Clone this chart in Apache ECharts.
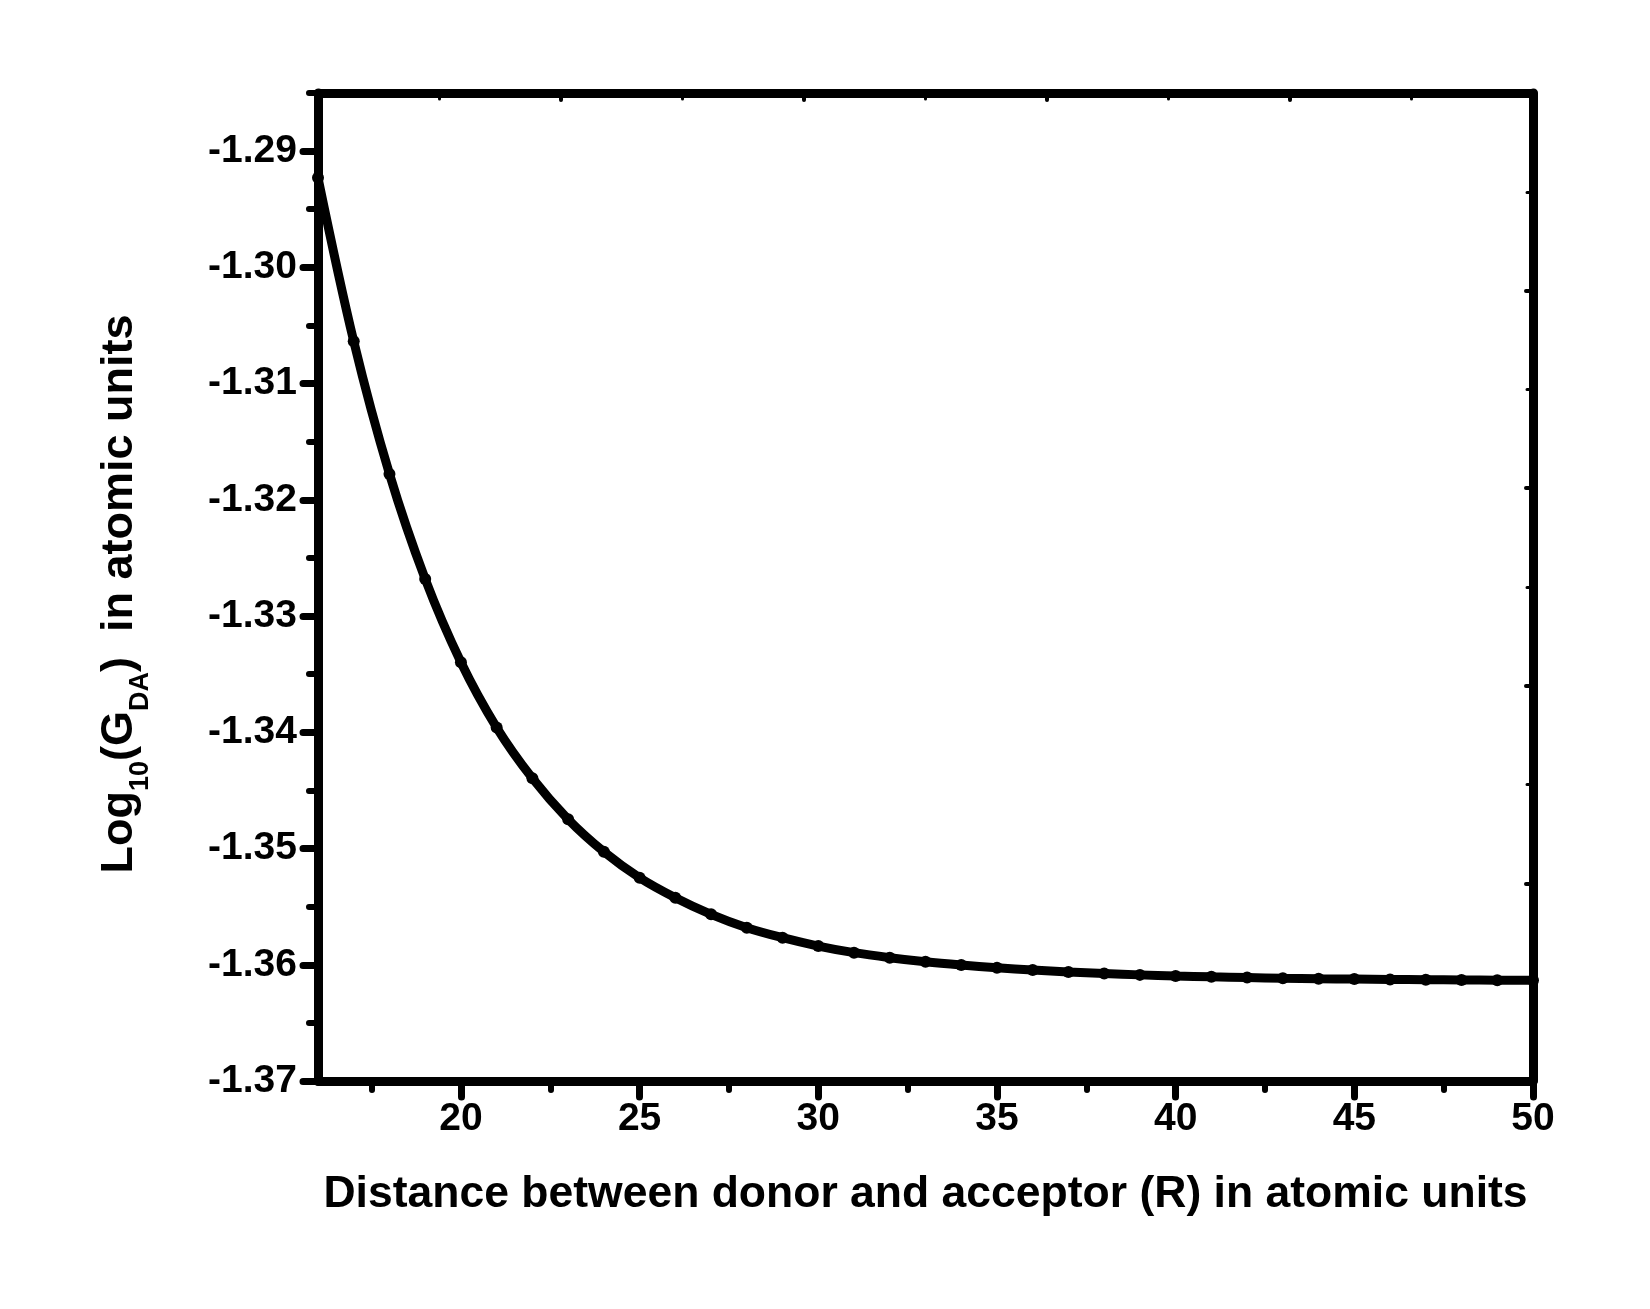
<!DOCTYPE html>
<html>
<head>
<meta charset="utf-8">
<script src="https://cdn.jsdelivr.net/npm/echarts@6/dist/echarts.min.js"></script>
<style>
html,body{margin:0;padding:0;background:#fff;}
#chart{width:1650px;height:1309px;}
</style>
</head>
<body>
<div id="chart"></div>
<script>
// Data
const xValues = [16,17,18,19,20,21,22,23,24,25,26,27,28,29,30,31,32,33,34,35,36,37,38,39,40,41,42,43,44,45,46,47,48,49,50];
const yValues = [-1.2923,-1.30636,-1.31777,-1.32681,-1.33397,-1.33959,-1.34396,-1.34749,-1.35028,-1.35251,
  -1.35423,-1.35566,-1.35681,-1.35767,-1.35839,-1.35896,-1.35939,-1.35974,-1.36002,-1.36026,
  -1.36046,-1.36062,-1.36076,-1.36087,-1.36097,-1.36104,-1.36110,-1.36116,-1.36120,-1.36123,
  -1.36126,-1.36128,-1.36131,-1.36133,-1.36134];

const xMajorTicks = [20,25,30,35,40,45,50];
const xMinorTicks = [17.5,22.5,27.5,32.5,37.5,42.5,47.5];
const yMajorTicks = [-1.37,-1.36,-1.35,-1.34,-1.33,-1.32,-1.31,-1.30,-1.29];
const yMinorTicks = [-1.365,-1.355,-1.345,-1.335,-1.325,-1.315,-1.305,-1.295,-1.285];

const xTitle = 'Distance between donor and acceptor (R) in atomic units';
const yTitle = '{m|Log}{s|10}{m|(G}{s|DA}{m|)  in atomic units}';

const FONT = 'Liberation Sans, Arial, sans-serif';
const AXW = 9;

const chart = echarts.init(document.getElementById('chart'), null, {renderer:'canvas'});
const axisLineStyle = {color:'#000', width:AXW, cap:'round'};

chart.setOption({
  backgroundColor:'#fff',
  animation:false,
  grid:{left:318, right:117, top:93, bottom:228, containLabel:false},
  xAxis:[
    {
      type:'value', position:'bottom', min:16, max:50,
      axisLine:{show:true, lineStyle:axisLineStyle},
      axisTick:{show:true, customValues:xMajorTicks, length:16, inside:false, lineStyle:{color:'#000', width:7, cap:'round'}},
      axisLabel:{show:true, customValues:xMajorTicks, margin:19, color:'#000', fontSize:39, fontWeight:'bold', fontFamily:FONT},
      splitLine:{show:false},
      name:xTitle, nameLocation:'middle', nameGap:91,
      nameTextStyle:{color:'#000', fontSize:44.5, fontWeight:'bold', fontFamily:FONT}
    },
    {
      type:'value', position:'bottom', min:16, max:50,
      axisLine:{show:false},
      axisTick:{show:true, customValues:xMinorTicks, length:9, inside:false, lineStyle:{color:'#000', width:6, cap:'round'}},
      axisLabel:{show:false},
      splitLine:{show:false}
    },
    {
      type:'value', position:'top', min:0, max:10, interval:2,
      axisLine:{show:true, lineStyle:axisLineStyle},
      axisTick:{show:true, inside:true, length:7, lineStyle:{color:'#000', width:4, cap:'round'}},
      minorTick:{show:true, splitNumber:2, length:6, lineStyle:{color:'#000', width:3, cap:'round'}},
      axisLabel:{show:false},
      splitLine:{show:false}
    }
  ],
  yAxis:[
    {
      type:'value', position:'left', min:-1.37, max:-1.285,
      axisLine:{show:true, lineStyle:axisLineStyle},
      axisTick:{show:true, customValues:yMajorTicks, length:15, inside:false, lineStyle:{color:'#000', width:7, cap:'round'}},
      axisLabel:{show:true, customValues:yMajorTicks, margin:21, color:'#000', fontSize:39, fontWeight:'bold', fontFamily:FONT,
        formatter:function(v){return v.toFixed(2);}},
      splitLine:{show:false},
      name:yTitle, nameLocation:'middle', nameGap:172, nameRotate:90,
      nameTextStyle:{color:'#000', fontFamily:FONT, padding:[0,14,0,0],
        rich:{
          m:{fontSize:45, fontWeight:'bold', fontFamily:FONT, color:'#000', lineHeight:52},
          s:{fontSize:27, fontWeight:'bold', fontFamily:FONT, color:'#000', verticalAlign:'bottom', lineHeight:27, padding:[0,0,-8,0]}
        }}
    },
    {
      type:'value', position:'left', min:-1.37, max:-1.285,
      axisLine:{show:false},
      axisTick:{show:true, customValues:yMinorTicks, length:9, inside:false, lineStyle:{color:'#000', width:6, cap:'round'}},
      axisLabel:{show:false},
      splitLine:{show:false}
    },
    {
      type:'value', position:'right', min:0, max:10, interval:2,
      axisLine:{show:true, lineStyle:axisLineStyle},
      axisTick:{show:true, inside:true, length:7, lineStyle:{color:'#000', width:4, cap:'round'}},
      minorTick:{show:true, splitNumber:2, length:6, lineStyle:{color:'#000', width:3, cap:'round'}},
      axisLabel:{show:false},
      splitLine:{show:false}
    }
  ],
  series:[{
    type:'line',
    xAxisIndex:0, yAxisIndex:0,
    data:xValues.map(function(x,i){return [x, yValues[i]];}),
    smooth:0.35,
    symbol:'circle', symbolSize:12,
    lineStyle:{color:'#000', width:9},
    itemStyle:{color:'#000'},
    clip:true,
    z:3
  }]
});
</script>
</body>
</html>
